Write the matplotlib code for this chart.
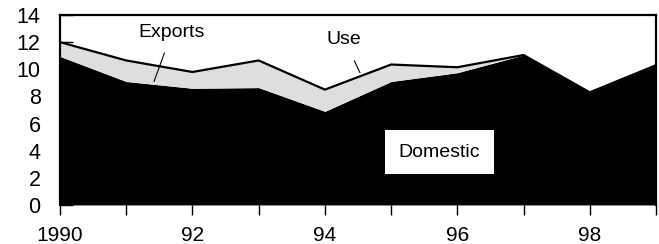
import matplotlib.pyplot as plt

plt.rcParams['font.family'] = ['Liberation Sans', 'DejaVu Sans']

# data
years = [1990, 1991, 1992, 1993, 1994, 1995, 1996, 1997, 1998, 1999]
domestic = [10.95, 9.1, 8.6, 8.65, 6.9, 9.1, 9.75, 11.05, 8.3, 10.3]
use = [12.0, 10.65, 9.8, 10.65, 8.5, 10.35, 10.15, 11.05, 8.3, 10.3]
tick_labels = ['1990', '', '92', '', '94', '', '96', '', '98', '']

fig = plt.figure(figsize=(6.59, 2.44), dpi=100)
ax = fig.add_axes([0.091, 0.16, 0.9045, 0.7785])

ax.fill_between(years, 0, domestic, color='black', linewidth=0)
ax.fill_between(years, domestic, use, color='#dedede', linewidth=0)
ax.plot(years, use, color='black', linewidth=1.6)

ax.set_xlim(years[0], years[-1])
ax.set_ylim(0, 14)
ax.set_yticks(range(0, 15, 2))
ax.set_xticks(years)
ax.set_xticklabels(tick_labels)
ax.tick_params(axis='y', direction='in', length=9, width=1, labelsize=15.5, pad=14)
ax.tick_params(axis='x', direction='out', length=7, width=1, labelsize=15, pad=8)
for s in ['top', 'left', 'right']:
    ax.spines[s].set_linewidth(1.6)
ax.spines['bottom'].set_visible(False)

# labels
ax.annotate('Exports', xy=(1991.42, 9.1), xytext=(1991.69, 12.7),
            fontsize=14, ha='center', va='center',
            arrowprops=dict(arrowstyle='-', color='black', lw=0.8, shrinkA=7, shrinkB=0))
ax.annotate('Use', xy=(1994.53, 9.75), xytext=(1994.29, 12.2),
            fontsize=14, ha='center', va='center',
            arrowprops=dict(arrowstyle='-', color='black', lw=0.8, shrinkA=8, shrinkB=0))
ax.text(1995.73, 3.9, 'Domestic', fontsize=14, ha='center', va='center',
        bbox=dict(facecolor='white', edgecolor='none', pad=10))

fig.savefig('out.png', dpi=100)
